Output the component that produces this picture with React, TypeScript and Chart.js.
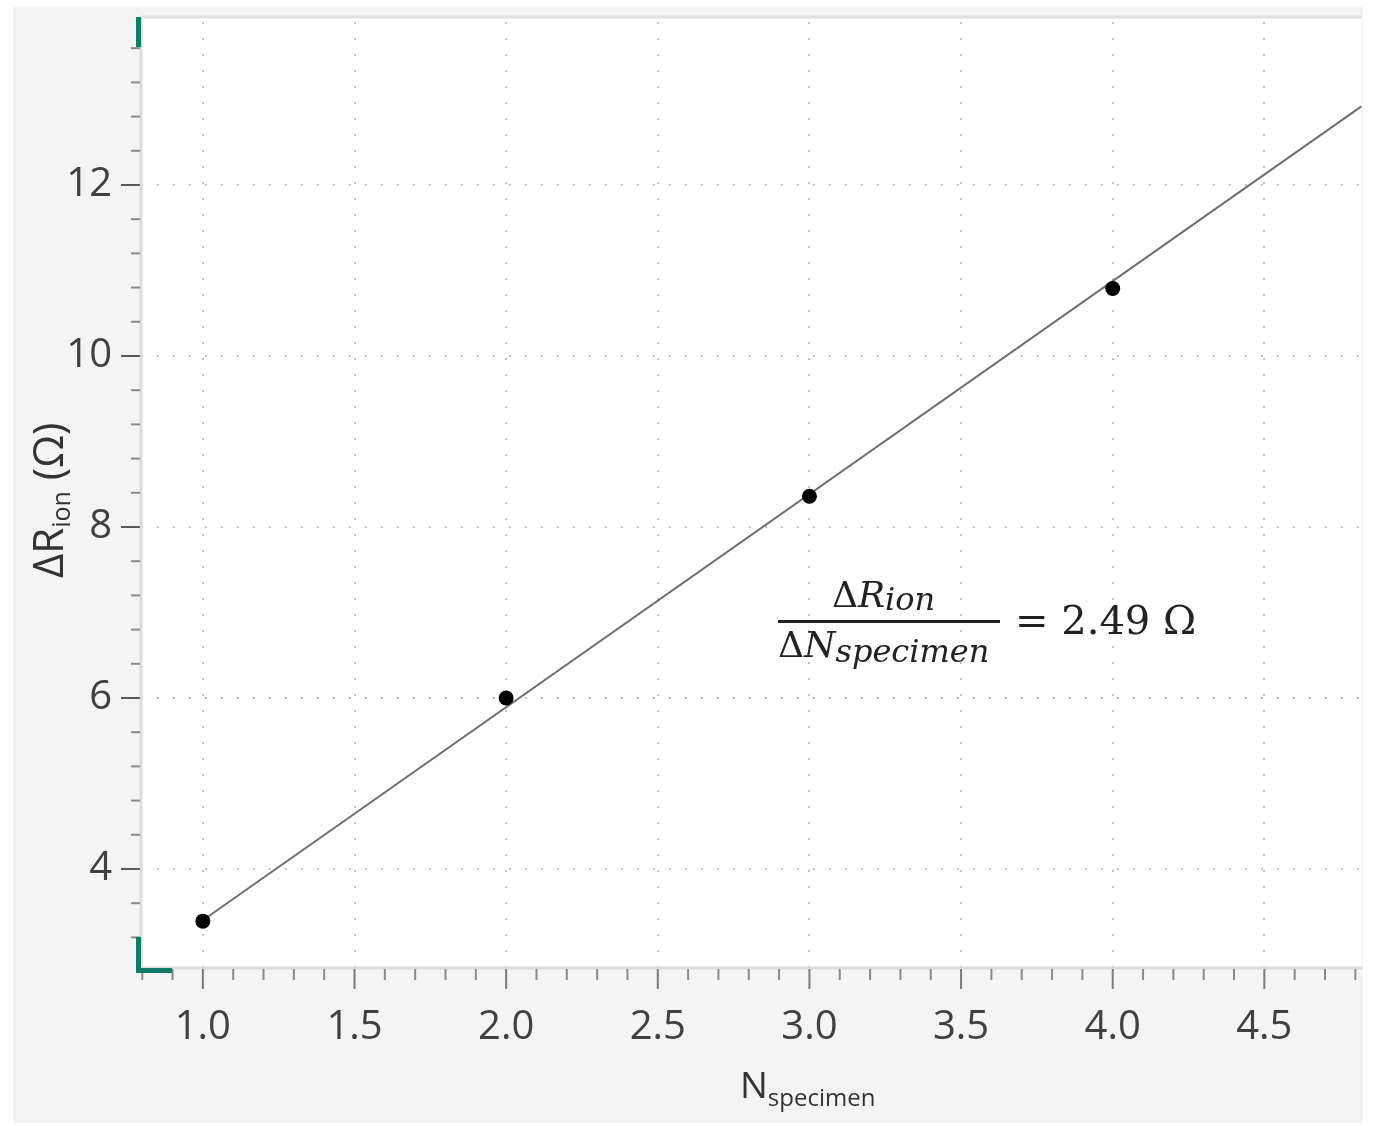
import React, { useEffect, useRef } from "react";
import { Chart, registerables } from "chart.js";

Chart.register(...registerables);

// ---- data ----
const pointX = [1, 2, 3, 4];
const pointY = [3.39, 6.0, 8.36, 10.79];
const fitX = [1.0, 4.82];
const fitY = [3.4, 12.92];
const xTickValues = [1.0, 1.5, 2.0, 2.5, 3.0, 3.5, 4.0, 4.5];
const yTickValues = [4, 6, 8, 10, 12];
const xRange = [0.796, 4.822];
const yRange = [2.842, 13.953];
const xMinorStep = 0.1;
const yMinorStep = 0.4;

const TICK_FONT = "Open Sans";
const SERIF = "DejaVu Serif";

type Part = { text: string; font: string; dy?: number };

function drawRich(ctx: CanvasRenderingContext2D, parts: Part[], x: number, y: number) {
  let cx = x;
  for (const p of parts) {
    ctx.font = p.font;
    ctx.fillText(p.text, cx, y + (p.dy || 0));
    cx += ctx.measureText(p.text).width;
  }
  return cx;
}

const decorPlugin = {
  id: "decor",
  beforeDraw(chart: any) {
    const { ctx, chartArea: a, width, height } = chart;
    ctx.save();
    ctx.fillStyle = "#ffffff";
    ctx.fillRect(0, 0, width, height);
    ctx.fillStyle = "#f4f4f4";
    ctx.fillRect(13, 7, a.right + 1 - 13, 1123 - 7);
    ctx.fillStyle = "#ffffff";
    ctx.fillRect(a.left, a.top, a.right - a.left, a.bottom - a.top);
    // top shadow line
    ctx.strokeStyle = "#e2e2e2";
    ctx.lineWidth = 3;
    ctx.beginPath();
    ctx.moveTo(a.left, a.top - 1);
    ctx.lineTo(a.right, a.top - 1);
    ctx.stroke();
    ctx.restore();
  },
  beforeDatasetsDraw(chart: any) {
    const { ctx, chartArea: a, scales } = chart;
    const xs = scales.x;
    const ys = scales.y;
    ctx.save();
    // dotted grid
    ctx.strokeStyle = "#c4c4c4";
    ctx.lineWidth = 2;
    ctx.setLineDash([2, 14]);
    for (const v of xTickValues) {
      const px = Math.round(xs.getPixelForValue(v));
      ctx.beginPath();
      ctx.moveTo(px, a.bottom);
      ctx.lineTo(px, a.top);
      ctx.stroke();
    }
    for (const v of yTickValues) {
      const py = Math.round(ys.getPixelForValue(v));
      ctx.beginPath();
      ctx.moveTo(a.left, py);
      ctx.lineTo(a.right, py);
      ctx.stroke();
    }
    ctx.setLineDash([]);
    // axis lines
    ctx.strokeStyle = "#dcdcdc";
    ctx.lineWidth = 3;
    ctx.beginPath();
    ctx.moveTo(a.left, a.top);
    ctx.lineTo(a.left, a.bottom);
    ctx.lineTo(a.right, a.bottom);
    ctx.stroke();

    // ticks - y
    const yMin = ys.min, yMax = ys.max;
    const yBase = yTickValues[0];
    for (let k = Math.ceil((yMin - yBase) / yMinorStep); yBase + k * yMinorStep <= yMax; k++) {
      const v = yBase + k * yMinorStep;
      const isMajor = yTickValues.some((t) => Math.abs(t - v) < 1e-6);
      const py = ys.getPixelForValue(v);
      ctx.strokeStyle = isMajor ? "#5a5a5a" : "#8a8a8a";
      ctx.lineWidth = 2;
      ctx.beginPath();
      ctx.moveTo(isMajor ? a.left - 20 : a.left - 10, py);
      ctx.lineTo(a.left - 1, py);
      ctx.stroke();
    }
    // ticks - x
    const xMin = xs.min, xMax = xs.max;
    const xBase = xTickValues[0];
    for (let k = Math.ceil((xMin - xBase) / xMinorStep); xBase + k * xMinorStep <= xMax; k++) {
      const v = xBase + k * xMinorStep;
      const isMajor = xTickValues.some((t) => Math.abs(t - v) < 1e-6);
      const px = xs.getPixelForValue(v);
      ctx.strokeStyle = isMajor ? "#7a7a7a" : "#8a8a8a";
      ctx.lineWidth = 2;
      ctx.beginPath();
      ctx.moveTo(px, a.bottom + 1);
      ctx.lineTo(px, isMajor ? a.bottom + 21 : a.bottom + 12);
      ctx.stroke();
    }
    // teal range marks
    ctx.fillStyle = "#137a68";
    ctx.fillRect(a.left - 5, a.top - 1, 5, 30);
    ctx.fillRect(a.left - 5, a.bottom - 31, 5, 33);
    ctx.fillRect(a.left - 5, a.bottom, 36, 5);
    ctx.restore();
  },
  afterDraw(chart: any) {
    const { ctx } = chart;
    ctx.save();
    ctx.textBaseline = "alphabetic";
    ctx.textAlign = "left";
    // y title
    ctx.fillStyle = "#333333";
    ctx.translate(63, 578);
    ctx.rotate(-Math.PI / 2);
    drawRich(ctx, [
      { text: "ΔR", font: `42px "${TICK_FONT}"` },
      { text: "ion", font: `25px "${TICK_FONT}"`, dy: 7 },
      { text: " (Ω)", font: `42px "${TICK_FONT}"` },
    ], 0, 0);
    ctx.setTransform(1, 0, 0, 1, 0, 0);
    ctx.restore();

    ctx.save();
    ctx.fillStyle = "#333333";
    ctx.textBaseline = "alphabetic";
    ctx.textAlign = "left";
    drawRich(ctx, [
      { text: "N", font: `37px "${TICK_FONT}"` },
      { text: "specimen", font: `24px "${TICK_FONT}"`, dy: 8 },
    ], 740, 1098);

    // equation
    ctx.fillStyle = "#222222";
    drawRich(ctx, [
      { text: "Δ", font: `36px "${SERIF}"` },
      { text: "R", font: `italic 36px "${SERIF}"` },
      { text: "ion", font: `italic 32px "${SERIF}"`, dy: 3 },
    ], 832, 607);
    ctx.fillRect(778, 620, 222, 3);
    drawRich(ctx, [
      { text: "Δ", font: `36px "${SERIF}"` },
      { text: "N", font: `italic 36px "${SERIF}"` },
      { text: "specimen", font: `italic 32px "${SERIF}"`, dy: 5 },
    ], 778, 657);
    drawRich(ctx, [{ text: "= 2.49 Ω", font: `40px "${SERIF}"` }], 1015, 634);
    ctx.restore();
  },
};

export default function App() {
  const ref = useRef<HTMLCanvasElement | null>(null);
  useEffect(() => {
    if (!ref.current) return;
    const chart = new Chart(ref.current, {
      type: "scatter",
      data: {
        datasets: [
          {
            type: "scatter",
            label: "measured",
            data: pointX.map((x, i) => ({ x, y: pointY[i] })),
            pointRadius: 7.5,
            pointBackgroundColor: "#000000",
            pointBorderWidth: 0,
            order: 1,
          },
          {
            type: "line",
            label: "fit",
            data: fitX.map((x, i) => ({ x, y: fitY[i] })),
            borderColor: "#6e6e6e",
            borderWidth: 2,
            pointRadius: 0,
            showLine: true,
            fill: false,
            order: 2,
          } as any,
        ],
      },
      options: {
        animation: false,
        responsive: false,
        devicePixelRatio: 1,
        layout: { padding: { left: 0, right: 11, top: 18, bottom: 0 } },
        plugins: { legend: { display: false }, tooltip: { enabled: false } },
        scales: {
          x: {
            type: "linear",
            min: xRange[0],
            max: xRange[1],
            grid: { display: false, drawTicks: false },
            border: { display: false },
            afterFit: (s: any) => {
              s.height = 158;
              s.paddingLeft = 0;
              s.paddingRight = 0;
            },
            afterBuildTicks: (s: any) => { s.ticks = xTickValues.map((v) => ({ value: v })); },
            ticks: {
              font: { family: TICK_FONT, size: 40 },
              color: "#404040",
              padding: 36,
              maxRotation: 0,
              callback: (v: any) => Number(v).toFixed(1),
            },
          },
          y: {
            type: "linear",
            min: yRange[0],
            max: yRange[1],
            grid: { display: false, drawTicks: false },
            border: { display: false },
            afterFit: (s: any) => {
              s.width = 141;
              s.paddingTop = 0;
              s.paddingBottom = 0;
            },
            afterBuildTicks: (s: any) => { s.ticks = yTickValues.map((v) => ({ value: v })); },
            ticks: {
              font: { family: TICK_FONT, size: 40 },
              color: "#404040",
              padding: 29,
              callback: (v: any) => String(v),
            },
          },
        },
      },
      plugins: [decorPlugin],
    });
    return () => chart.destroy();
  }, []);
  return (
    <div style={{ position: "absolute", left: 0, top: 0, width: 1373, height: 1126 }}>
      <canvas ref={ref} width={1373} height={1126} style={{ width: 1373, height: 1126, display: "block" }} />
    </div>
  );
}
